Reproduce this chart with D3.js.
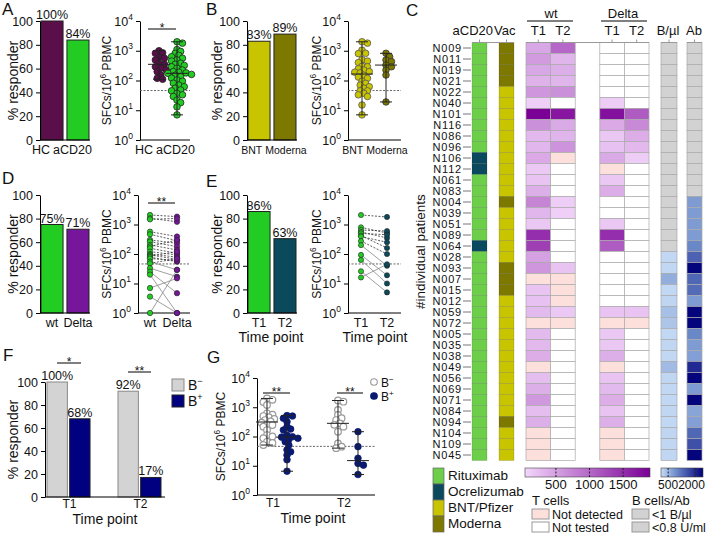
<!DOCTYPE html>
<html><head><meta charset="utf-8">
<script src="https://cdn.jsdelivr.net/npm/d3@7/dist/d3.min.js"></script>
<style>body{margin:0;background:#fff}</style>
</head><body><script>
// ================= DATA =================
const catsA = ["HC","aCD20"], pctA = [100,84];
const hcSFC = [1000,850,820,600,560,490,380,350,290,257,225,198,153,118,110];
const acd20SFC = [2000,1800,1100,950,820,700,630,560,490,450,380,350,320,290,260,225,200,190,180,174,160,150,134,120,104,95,81,70,62,55,48,45,37,33,29,22,18,13,7];
const catsB = ["BNT","Moderna"], pctB = [83,89];
const bntSFC = [2000,1800,1050,820,800,500,450,400,300,290,250,225,200,190,180,150,130,118,95,80,70,62,55,45,45,37,33,29,15,7];
const modernaSFC = [820,630,490,430,330,290,225,153,19];
const catsD = ["wt","Delta"], pctD = [75,71];
const wtSFC    = [2100,1620,1500,570,465,300,263,203,180,156,120,100,93,85,78,70,55,48,33,25,20,7,3.6,1];
const deltaSFC = [1850,1240,1600,390,283,230,177,137,300,106,93,78,66,120,55,60,29,70,17,4.7,1,15,1,29];
const catsE = ["T1","T2"], pctE = [86,63];
const t1SFC = [2100,800,650,560,500,420,390,275,200,93,63,26,16];
const t2SFC = [1800,515,600,350,450,160,250,100,40,19,10,5,45];
const groupsF = ["T1","T2"], bNegPct = [100,92], bPosPct = [68,17];
const gT1neg = [2000,1800,1500,1200,620,560,500,455,400,365,330,295,260,247,217,166,112,100,87,66,60,51];
const gT1pos = [520,500,420,320,217,180,166,110,98,95,87,80,66,51,35,30,23,16,6.5];
const gT2neg = [1700,1550,810,545,420,365,282,250,217,146,58,45,40];
const gT2pos = [146,45,18,12,10.5,5];
const threshold = 46;
const pctTicks = [0,20,40,60,80,100];
const logTicks = [1,10,100,1000,10000];

// heatmap
const patients = ["N009","N011","N019","N021","N022","N040","N101","N116","N086","N096","N106","N112","N061","N083","N004","N039","N051","N089","N064","N028","N093","N007","N015","N012","N059","N072","N005","N035","N038","N049","N056","N069","N071","N084","N094","N104","N109","N045"];
const antiCD20 = ["R","R","R","R","R","R","R","R","R","R","O","O","R","R","R","R","R","R","O","R","R","R","R","R","R","R","R","R","R","R","R","R","R","R","R","R","R","R"];
const vaccine  = ["M","M","M","M","B","B","B","B","B","B","B","B","B","B","M","B","B","B","B","B","M","M","M","B","B","B","B","B","B","B","B","B","B","B","M","B","B","B"];
// T cell SFC: 0 = not detected, null = not tested
const wtT1 = [450,550,450,350,600,100,1900,650,300,320,430,150,200,380,750,320,170,1500,1350,500,600,0,200,220,280,0,280,300,400,0,250,380,580,260,380,0,0,0];
const wtT2 = [1000,330,380,330,650,null,1700,420,330,620,0,null,null,null,120,100,null,null,null,null,200,0,0,0,150,0,null,null,null,null,null,null,null,null,null,null,null,null];
const deltaT1 = [null,null,null,null,null,130,1750,430,160,220,420,0,160,400,null,null,170,1500,1100,null,null,null,null,null,200,0,170,170,380,0,200,280,400,200,380,0,0,0];
const deltaT2 = [null,null,null,null,null,null,1100,700,400,300,130,null,null,null,null,null,null,null,null,null,null,null,null,null,200,0,null,null,null,null,null,null,null,null,null,null,null,null];
// B cells / Ab: null = below detection (grey)
const bCells = [null,null,null,null,null,null,null,null,null,null,null,null,null,null,null,null,null,null,null,150,150,600,150,170,400,350,150,160,150,450,160,150,150,160,150,170,160,160];
const antibody = [null,null,null,null,null,null,null,null,null,null,null,null,null,null,800,800,800,800,1000,1400,2400,1350,1300,800,2400,2400,1000,800,750,2000,2400,800,2400,700,750,1350,1600,2400];
const tLegendTicks = [500,1000,1500];
const bLegendTicks = [500,2000];

// ================= SETUP =================
const FONT = '"Liberation Sans", Arial, Helvetica, sans-serif';
const svg = d3.select('body').append('svg').attr('width',709).attr('height',534)
  .style('font-family',FONT);
const col = {HC:"#5a0f4b", aCD20:"#22cc22", BNT:"#c8c400", Moderna:"#7d7800", Delta:"#76169a",
  T2:"#0b4a5c", Rit:"#6dce4a", Ocr:"#0b4a5e", bneg:"#d3d3d3", bpos:"#000080", nd:"#fde0dc", grey:"#d2d2d2"};

function txt(g,x,y,s,fs,anchor){return g.append('text').attr('x',x).attr('y',y).attr('font-size',fs)
  .attr('text-anchor',anchor||'start').attr('fill','#111').text(s);}
function styleAx(sel,fs){
  sel.select('.domain').attr('stroke','#000').attr('stroke-width',1);
  sel.selectAll('.tick line').attr('stroke','#000');
  sel.selectAll('.tick text').attr('font-size',fs).attr('fill','#111').attr('font-family',FONT);
}
function logLabels(sel){
  sel.selectAll('.tick text').each(function(d){
    const t=d3.select(this); t.text('');
    t.append('tspan').text('10');
    t.append('tspan').attr('dy',-6).attr('font-size',8.5).text(Math.round(Math.log10(d)));
  });
}
function yLabel(g,x,yc,fs,sup){
  const t=g.append('text').attr('transform',`translate(${x+5},${yc}) rotate(-90)`)
    .attr('text-anchor','middle').attr('font-size',fs).attr('fill','#111');
  if(sup){ t.append('tspan').text('SFCs/10'); t.append('tspan').attr('dy',-5).attr('font-size',fs*0.7).text('6');
    t.append('tspan').attr('dy',5).text(' PBMC'); }
  else t.text('% responder');
}
function catLabels(g,cats,xs,y,fs,shift){
  const ts=cats.map((c,i)=>txt(g,xs[i],y,c,fs,'middle'));
  if(cats.length===2){
    const w0=ts[0].node().getComputedTextLength(), w1=ts[1].node().getComputedTextLength(), gap=3;
    if(xs[0]+w0/2+gap>xs[1]-w1/2){
      const mid=(xs[0]+xs[1])/2-(shift==null?3:shift), s=mid-(w0+gap+w1)/2;
      ts[0].attr('x',s+w0/2); ts[1].attr('x',s+w0+gap+w1/2);
    }
  }
}
function letter(x,y,s){txt(svg,x,y,s,17);}
function sigBar(g,x1,x2,y,s){
  g.append('line').attr('x1',x1).attr('x2',x2).attr('y1',y).attr('y2',y).attr('stroke','#000');
  txt(g,(x1+x2)/2,y+3,s,12,'middle');
}

function barChart(o){
  const g=svg.append('g');
  const y=d3.scaleLinear().domain([0,100]).range([o.yBot,o.yTop]);
  const x=d3.scaleBand().domain(o.cats).range(o.xr).paddingInner(0.15);
  g.selectAll('rect').data(o.vals).join('rect')
    .attr('x',(d,i)=>x(o.cats[i])).attr('y',d=>y(d)).attr('width',x.bandwidth())
    .attr('height',d=>o.yBot-y(d)).attr('fill',(d,i)=>o.colors[i]).attr('stroke','#222').attr('stroke-width',1);
  g.append('g').attr('transform',`translate(${o.ax},0)`)
    .call(d3.axisLeft(y).tickValues(pctTicks).tickSize(4).tickSizeOuter(0)).call(styleAx,12.5);
  g.append('line').attr('x1',o.ax).attr('x2',o.xr[1]+1).attr('y1',o.yBot).attr('y2',o.yBot).attr('stroke','#000');
  o.vals.forEach((v,i)=>txt(g,x(o.cats[i])+x.bandwidth()/2,y(v)-2,v+'%',12.5,'middle'));
  catLabels(g,o.cats,o.cats.map(c=>x(c)+x.bandwidth()/2),o.yBot+14,o.catFs||12.5,o.shift);
  yLabel(g,o.lx,(o.yTop+o.yBot)/2,14,false);
  return g;
}

function swarm(ys,cx,r){
  const order=d3.range(ys.length).sort((a,b)=>ys[a]-ys[b]);
  const placed=[], xs=new Array(ys.length);
  for(const i of order){
    let chosen=cx;
    for(let k=0;k<80;k++){
      const off=k===0?0:((k%2)?1:-1)*Math.ceil(k/2)*r*0.55;
      const xx=cx+off;
      if(placed.every(p=>Math.hypot(p[0]-xx,p[1]-ys[i])>=2*r*0.62)){chosen=xx;break;}
    }
    xs[i]=chosen; placed.push([chosen,ys[i]]);
  }
  return xs;
}

function logAxes(g,o){
  const y=d3.scaleLog().domain([1,1e4]).range([o.yBot,o.yTop]);
  g.append('g').attr('transform',`translate(${o.ax},0)`)
    .call(d3.axisLeft(y).tickValues(logTicks).tickSize(4).tickSizeOuter(0)).call(styleAx,12.5).call(logLabels);
  g.append('line').attr('x1',o.ax).attr('x2',o.xEnd).attr('y1',o.yBot).attr('y2',o.yBot).attr('stroke','#000');
  g.append('line').attr('x1',o.ax).attr('x2',o.xEnd).attr('y1',y(threshold)).attr('y2',y(threshold))
    .attr('stroke','#555').attr('stroke-width',0.9).attr('stroke-dasharray','2,1.5');
  yLabel(g,o.lx,(o.yTop+o.yBot)/2,12,true);
  return y;
}

function scatterGroups(g,y,groups){
  groups.forEach(gr=>{
    const ys=gr.vals.map(v=>y(v)), xs=swarm(ys,gr.cx,gr.r);
    g.selectAll(null).data(gr.vals).join('circle').attr('cx',(d,i)=>xs[i]).attr('cy',(d,i)=>ys[i]).attr('r',gr.r)
      .attr('fill',gr.fill).attr('stroke',gr.stroke).attr('stroke-width',gr.sw||0.8);
  });
  groups.forEach(gr=>{
    const mn=d3.min(gr.vals), mx=d3.max(gr.vals), md=d3.median(gr.vals), c=gr.cx, s=gr.lc||'#222';
    g.append('line').attr('x1',c).attr('x2',c).attr('y1',y(mn)).attr('y2',y(mx)).attr('stroke',s);
    [mn,mx].forEach(v=>g.append('line').attr('x1',c-6).attr('x2',c+6).attr('y1',y(v)).attr('y2',y(v)).attr('stroke',s));
    g.append('line').attr('x1',c-11).attr('x2',c+11).attr('y1',y(md)).attr('y2',y(md)).attr('stroke',s);
  });
}

function pairedPlot(o){
  const g=svg.append('g');
  const y=logAxes(g,o);
  const x=d3.scalePoint().domain(o.cats).range(o.cx);
  o.a.forEach((v,i)=>{
    const w=o.b[i], dashed=v>=threshold&&w>=threshold;
    g.append('line').attr('x1',x(o.cats[0])).attr('x2',x(o.cats[1])).attr('y1',y(v)).attr('y2',y(w))
      .attr('stroke',dashed?'#333':'#888').attr('stroke-width',0.8).attr('stroke-dasharray',dashed?'2,1.5':null);
  });
  [[o.a,o.c0],[o.b,o.c1]].forEach(([vals,c],k)=>{
    g.selectAll(null).data(vals).join('circle').attr('cx',x(o.cats[k])).attr('cy',d=>y(d)).attr('r',o.r)
      .attr('fill',c).attr('stroke','#222').attr('stroke-width',0.6);
  });
  catLabels(g,o.cats,o.cats.map(c=>x(c)),o.yBot+14,12.5);
  return {g,y,x};
}

// ================= PANEL A =================
letter(2,15,'A');
barChart({cats:catsA,vals:pctA,colors:[col.HC,col.aCD20],ax:40,xr:[41,89],yTop:21,yBot:140,lx:13});
{
  const g=svg.append('g'); const o={ax:140,xEnd:190,yTop:21,yBot:140,lx:106};
  const y=logAxes(g,o);
  const x=d3.scalePoint().domain(catsA).range([159,177]);
  scatterGroups(g,y,[{vals:hcSFC,cx:x("HC"),r:3.3,fill:col.HC,stroke:'#222'},{vals:acd20SFC,cx:x("aCD20"),r:3.3,fill:col.aCD20,stroke:'#222'}]);
  sigBar(g,148,176,29,'*');
  catLabels(g,catsA,catsA.map(c=>x(c)),o.yBot+14,12.5);
}
// ================= PANEL B =================
letter(206,15,'B');
barChart({cats:catsB,vals:pctB,colors:[col.BNT,col.Moderna],ax:247,xr:[248,296],yTop:21,yBot:140,lx:217,catFs:10.5,shift:-2});
{
  const g=svg.append('g'); const o={ax:348,xEnd:401,yTop:21,yBot:140,lx:316};
  const y=logAxes(g,o);
  const x=d3.scalePoint().domain(catsB).range([362,386]);
  scatterGroups(g,y,[{vals:bntSFC,cx:x("BNT"),r:3.3,fill:col.BNT,stroke:'#555'},{vals:modernaSFC,cx:x("Moderna"),r:3.3,fill:col.Moderna,stroke:'#333'}]);
  catLabels(g,catsB,catsB.map(c=>x(c)),o.yBot+14,10.5,-1);
}
// ================= PANEL D =================
letter(2,184,'D');
barChart({cats:catsD,vals:pctD,colors:[col.aCD20,col.Delta],ax:40,xr:[41,89],yTop:195,yBot:313,lx:13});
{
  const r=pairedPlot({cats:catsD,a:wtSFC,b:deltaSFC,c0:col.aCD20,c1:col.Delta,cx:[150,177],r:2.7,ax:138,xEnd:190,yTop:195,yBot:313,lx:106});
  sigBar(r.g,148,175,203,'**');
}
// ================= PANEL E =================
letter(206,187,'E');
barChart({cats:catsE,vals:pctE,colors:[col.aCD20,col.T2],ax:247,xr:[248,296],yTop:195,yBot:313,lx:217});
txt(svg,271,342,'Time point',14,'middle');
{
  pairedPlot({cats:catsE,a:t1SFC,b:t2SFC,c0:col.aCD20,c1:col.T2,cx:[361,387],r:2.6,ax:348,xEnd:401,yTop:195,yBot:313,lx:316});
  txt(svg,375,342,'Time point',14,'middle');
}
// ================= PANEL F =================
letter(3,361,'F');
{
  const g=svg.append('g'), yTop=382, yBot=497;
  const y=d3.scaleLinear().domain([0,100]).range([yBot,yTop]);
  const x0=d3.scaleBand().domain(groupsF).range([47,161]).paddingInner(0.394);
  const x1=d3.scaleBand().domain(["neg","pos"]).range([0,x0.bandwidth()]).paddingInner(0.1);
  groupsF.forEach((gr,i)=>{
    [[bNegPct[i],"neg",col.bneg,'#888'],[bPosPct[i],"pos",col.bpos,'#222']].forEach(([v,k,c,s])=>{
      const bx=x0(gr)+x1(k);
      g.append('rect').attr('x',bx).attr('y',y(v)).attr('width',x1.bandwidth()).attr('height',yBot-y(v))
        .attr('fill',c).attr('stroke',s);
      txt(g,bx+x1.bandwidth()/2,y(v)-2,v+'%',12.5,'middle');
    });
    txt(g,x0(gr)+x0.bandwidth()/2+1,yBot+11,gr,12,'middle');
  });
  g.append('g').attr('transform',`translate(45,0)`)
    .call(d3.axisLeft(y).tickValues(pctTicks).tickSize(4).tickSizeOuter(0)).call(styleAx,12.5);
  g.append('line').attr('x1',45).attr('x2',165).attr('y1',yBot).attr('y2',yBot).attr('stroke','#000');
  yLabel(g,13,(yTop+yBot)/2,14,false);
  txt(g,105,524,'Time point',14,'middle');
  sigBar(g,57,81,363,'*');
  sigBar(g,128,151,372,'**');
  [[col.bneg,'#888','−',379],[col.bpos,'#222','+',395]].forEach(([c,s,sg,yy])=>{
    g.append('rect').attr('x',172).attr('y',yy).attr('width',12).attr('height',12).attr('fill',c).attr('stroke',s);
    const t=txt(g,188,yy+11,'B',14); t.append('tspan').attr('dy',-6).attr('font-size',9).text(sg);
  });
}
// ================= PANEL G =================
letter(207,363,'G');
{
  const g=svg.append('g'); const o={ax:257,xEnd:375,yTop:378,yBot:495,lx:220};
  const y=logAxes(g,o);
  const x0=d3.scaleBand().domain(groupsF).range([262,363]).paddingInner(0.577);
  const x1=d3.scalePoint().domain(["neg","pos"]).range([0,x0.bandwidth()]).padding(0.25);
  scatterGroups(g,y,[
    {vals:gT1neg,cx:x0("T1")+x1("neg"),r:3.3,fill:'#fff',stroke:'#999',sw:1.2},
    {vals:gT1pos,cx:x0("T1")+x1("pos"),r:3.3,fill:'#0a1a6e',stroke:'#0a1a6e'},
    {vals:gT2neg,cx:x0("T2")+x1("neg"),r:3.3,fill:'#fff',stroke:'#999',sw:1.2},
    {vals:gT2pos,cx:x0("T2")+x1("pos"),r:3.3,fill:'#0a1a6e',stroke:'#0a1a6e'}]);
  groupsF.forEach(gr=>txt(g,x0(gr)+x0.bandwidth()/2-4,o.yBot+12,gr,12,'middle'));
  txt(g,313,523,'Time point',14,'middle');
  sigBar(g,263,290,393,'**');
  sigBar(g,337,363,393,'**');
  [['#fff','#999','−',382],['#0a1a6e','#0a1a6e','+',396]].forEach(([c,s,sg,yy])=>{
    g.append('circle').attr('cx',374).attr('cy',yy).attr('r',3.3).attr('fill',c).attr('stroke',s).attr('stroke-width',1.1);
    const t=txt(g,381,yy+4.5,'B',12); t.append('tspan').attr('dy',-5).attr('font-size',8).text(sg);
  });
}
// ================= PANEL C (heatmap) =================
letter(406,16,'C');
{
  const g=svg.append('g');
  const yR=d3.scaleBand().domain(patients).range([42.5,460.5]);
  const tcols=["wtT1","wtT2","gap","dT1","dT2"];
  const xT=d3.scaleBand().domain(tcols).range([526,649]);
  const purple=d3.scaleLinear().domain([40,1900]).range(["#f3d6fb","#7a0096"]).clamp(true);
  const blue=d3.scaleLinear().domain([100,1000,2450]).range(["#c6dcf6","#6a88c8","#00007a"]).clamp(true);
  const tData={wtT1,wtT2,dT1:deltaT1,dT2:deltaT2};
  const cellStroke='#aaa';
  patients.forEach(p=>{
    const yc=yR(p)+yR.bandwidth()/2;
    txt(g,462,yc+4,p,11,'end').attr('letter-spacing',0.8);
    g.append('line').attr('x1',463).attr('x2',471).attr('y1',yc).attr('y2',yc).attr('stroke','#777');
  });
  patients.forEach((p,i)=>{
    g.append('rect').attr('x',472).attr('y',yR(p)).attr('width',15).attr('height',yR.bandwidth())
      .attr('fill',antiCD20[i]==="O"?col.Ocr:col.Rit).attr('stroke','rgba(0,0,0,0.18)').attr('stroke-width',0.7);
    g.append('rect').attr('x',499).attr('y',yR(p)).attr('width',15).attr('height',yR.bandwidth())
      .attr('fill',vaccine[i]==="M"?col.Moderna:col.BNT).attr('stroke','rgba(0,0,0,0.18)').attr('stroke-width',0.7);
    ["wtT1","wtT2","dT1","dT2"].forEach(c=>{
      const v=tData[c][i];
      g.append('rect').attr('x',xT(c)).attr('y',yR(p)).attr('width',xT.bandwidth()).attr('height',yR.bandwidth())
        .attr('fill',v==null?'#fff':(v===0?col.nd:purple(v))).attr('stroke',cellStroke).attr('stroke-width',0.7);
    });
    g.append('rect').attr('x',661).attr('y',yR(p)).attr('width',16).attr('height',yR.bandwidth())
      .attr('fill',bCells[i]==null?col.grey:blue(bCells[i])).attr('stroke',cellStroke).attr('stroke-width',0.7);
    g.append('rect').attr('x',687).attr('y',yR(p)).attr('width',15).attr('height',yR.bandwidth())
      .attr('fill',antibody[i]==null?col.grey:blue(antibody[i])).attr('stroke',cellStroke).attr('stroke-width',0.7);
  });
  [[472,514],[526,649],[661,677],[687,702]].forEach(([a,b])=>g.append('line').attr('x1',a).attr('x2',b)
    .attr('y1',42.5).attr('y2',42.5).attr('stroke','#999'));
  [479.5,506.5,...["wtT1","wtT2","dT1","dT2"].map(c=>xT(c)+xT.bandwidth()/2),669,694.5].forEach(xc=>
    g.append('line').attr('x1',xc).attr('x2',xc).attr('y1',39.5).attr('y2',42.5).attr('stroke','#999'));
  txt(g,493,35,'aCD20',13,'end'); txt(g,494,35,'Vac',13,'start');
  ["wtT1","wtT2","dT1","dT2"].forEach(c=>txt(g,xT(c)+xT.bandwidth()/2,35,c.endsWith('1')?'T1':'T2',13,'middle'));
  txt(g,551,18,'wt',13,'middle');
  g.append('line').attr('x1',527).attr('x2',573).attr('y1',21).attr('y2',21).attr('stroke','#000');
  txt(g,623,18,'Delta',13,'middle');
  g.append('line').attr('x1',601).attr('x2',647).attr('y1',21).attr('y2',21).attr('stroke','#000');
  txt(g,668,35,'B/µl',13,'middle'); txt(g,694,35,'Ab',13,'middle');
  g.append('text').attr('transform','translate(425,309) rotate(-90)').attr('font-size',13.5).attr('fill','#111').text('#individual patients');

  [[col.Rit,'Rituximab'],[col.Ocr,'Ocrelizumab'],[col.BNT,'BNT/Pfizer'],[col.Moderna,'Moderna']].forEach(([c,s],i)=>{
    g.append('rect').attr('x',433).attr('y',468+i*16).attr('width',11).attr('height',16).attr('fill',c).attr('stroke','#666').attr('stroke-width',0.7);
    txt(g,448,480+i*16,s,13.5);
  });
  const defs=svg.append('defs');
  function grad(id,scale,dom){
    const gr=defs.append('linearGradient').attr('id',id);
    d3.range(0,1.0001,0.1).forEach(t=>gr.append('stop').attr('offset',t).attr('stop-color',scale(dom[0]+t*(dom[1]-dom[0]))));
  }
  grad('gp',purple,[40,1900]); grad('gb',blue,[100,2450]);
  const lp=d3.scaleLinear().domain([40,1900]).range([525,650]);
  g.append('rect').attr('x',525).attr('y',468).attr('width',125).attr('height',9).attr('fill','url(#gp)').attr('stroke','#444').attr('stroke-width',0.6);
  tLegendTicks.forEach(v=>{
    g.append('line').attr('x1',lp(v)).attr('x2',lp(v)).attr('y1',468).attr('y2',477).attr('stroke','#222').attr('stroke-dasharray','2,1.5');
    txt(g,lp(v),489,v,13,'middle');
  });
  const lb=d3.scaleLinear().domain([100,2450]).range([661,703]);
  g.append('rect').attr('x',661).attr('y',468).attr('width',42).attr('height',9).attr('fill','url(#gb)').attr('stroke','#444').attr('stroke-width',0.6);
  bLegendTicks.forEach(v=>{
    g.append('line').attr('x1',lb(v)).attr('x2',lb(v)).attr('y1',468).attr('y2',477).attr('stroke','#222').attr('stroke-dasharray','2,1.5');
  });
  txt(g,lb(500)+10,489,String(bLegendTicks[0]),12,'end'); txt(g,lb(500)+10,489,String(bLegendTicks[1]),12,'start');
  txt(g,532,505,'T cells',13); txt(g,632,505,'B cells/Ab',13);
  [[col.nd,'Not detected',509],['#fff','Not tested',522]].forEach(([c,s,yy])=>{
    g.append('rect').attr('x',532).attr('y',yy).attr('width',17).attr('height',10).attr('fill',c).attr('stroke','#999');
    txt(g,552,yy+10,s,12.5);
  });
  [[col.grey,'<1 B/µl',509],[col.grey,'<0.8 U/ml',522]].forEach(([c,s,yy])=>{
    g.append('rect').attr('x',632).attr('y',yy).attr('width',17).attr('height',10).attr('fill',c).attr('stroke','#999');
    txt(g,652,yy+10,s,12.5);
  });
}
</script></body></html>
